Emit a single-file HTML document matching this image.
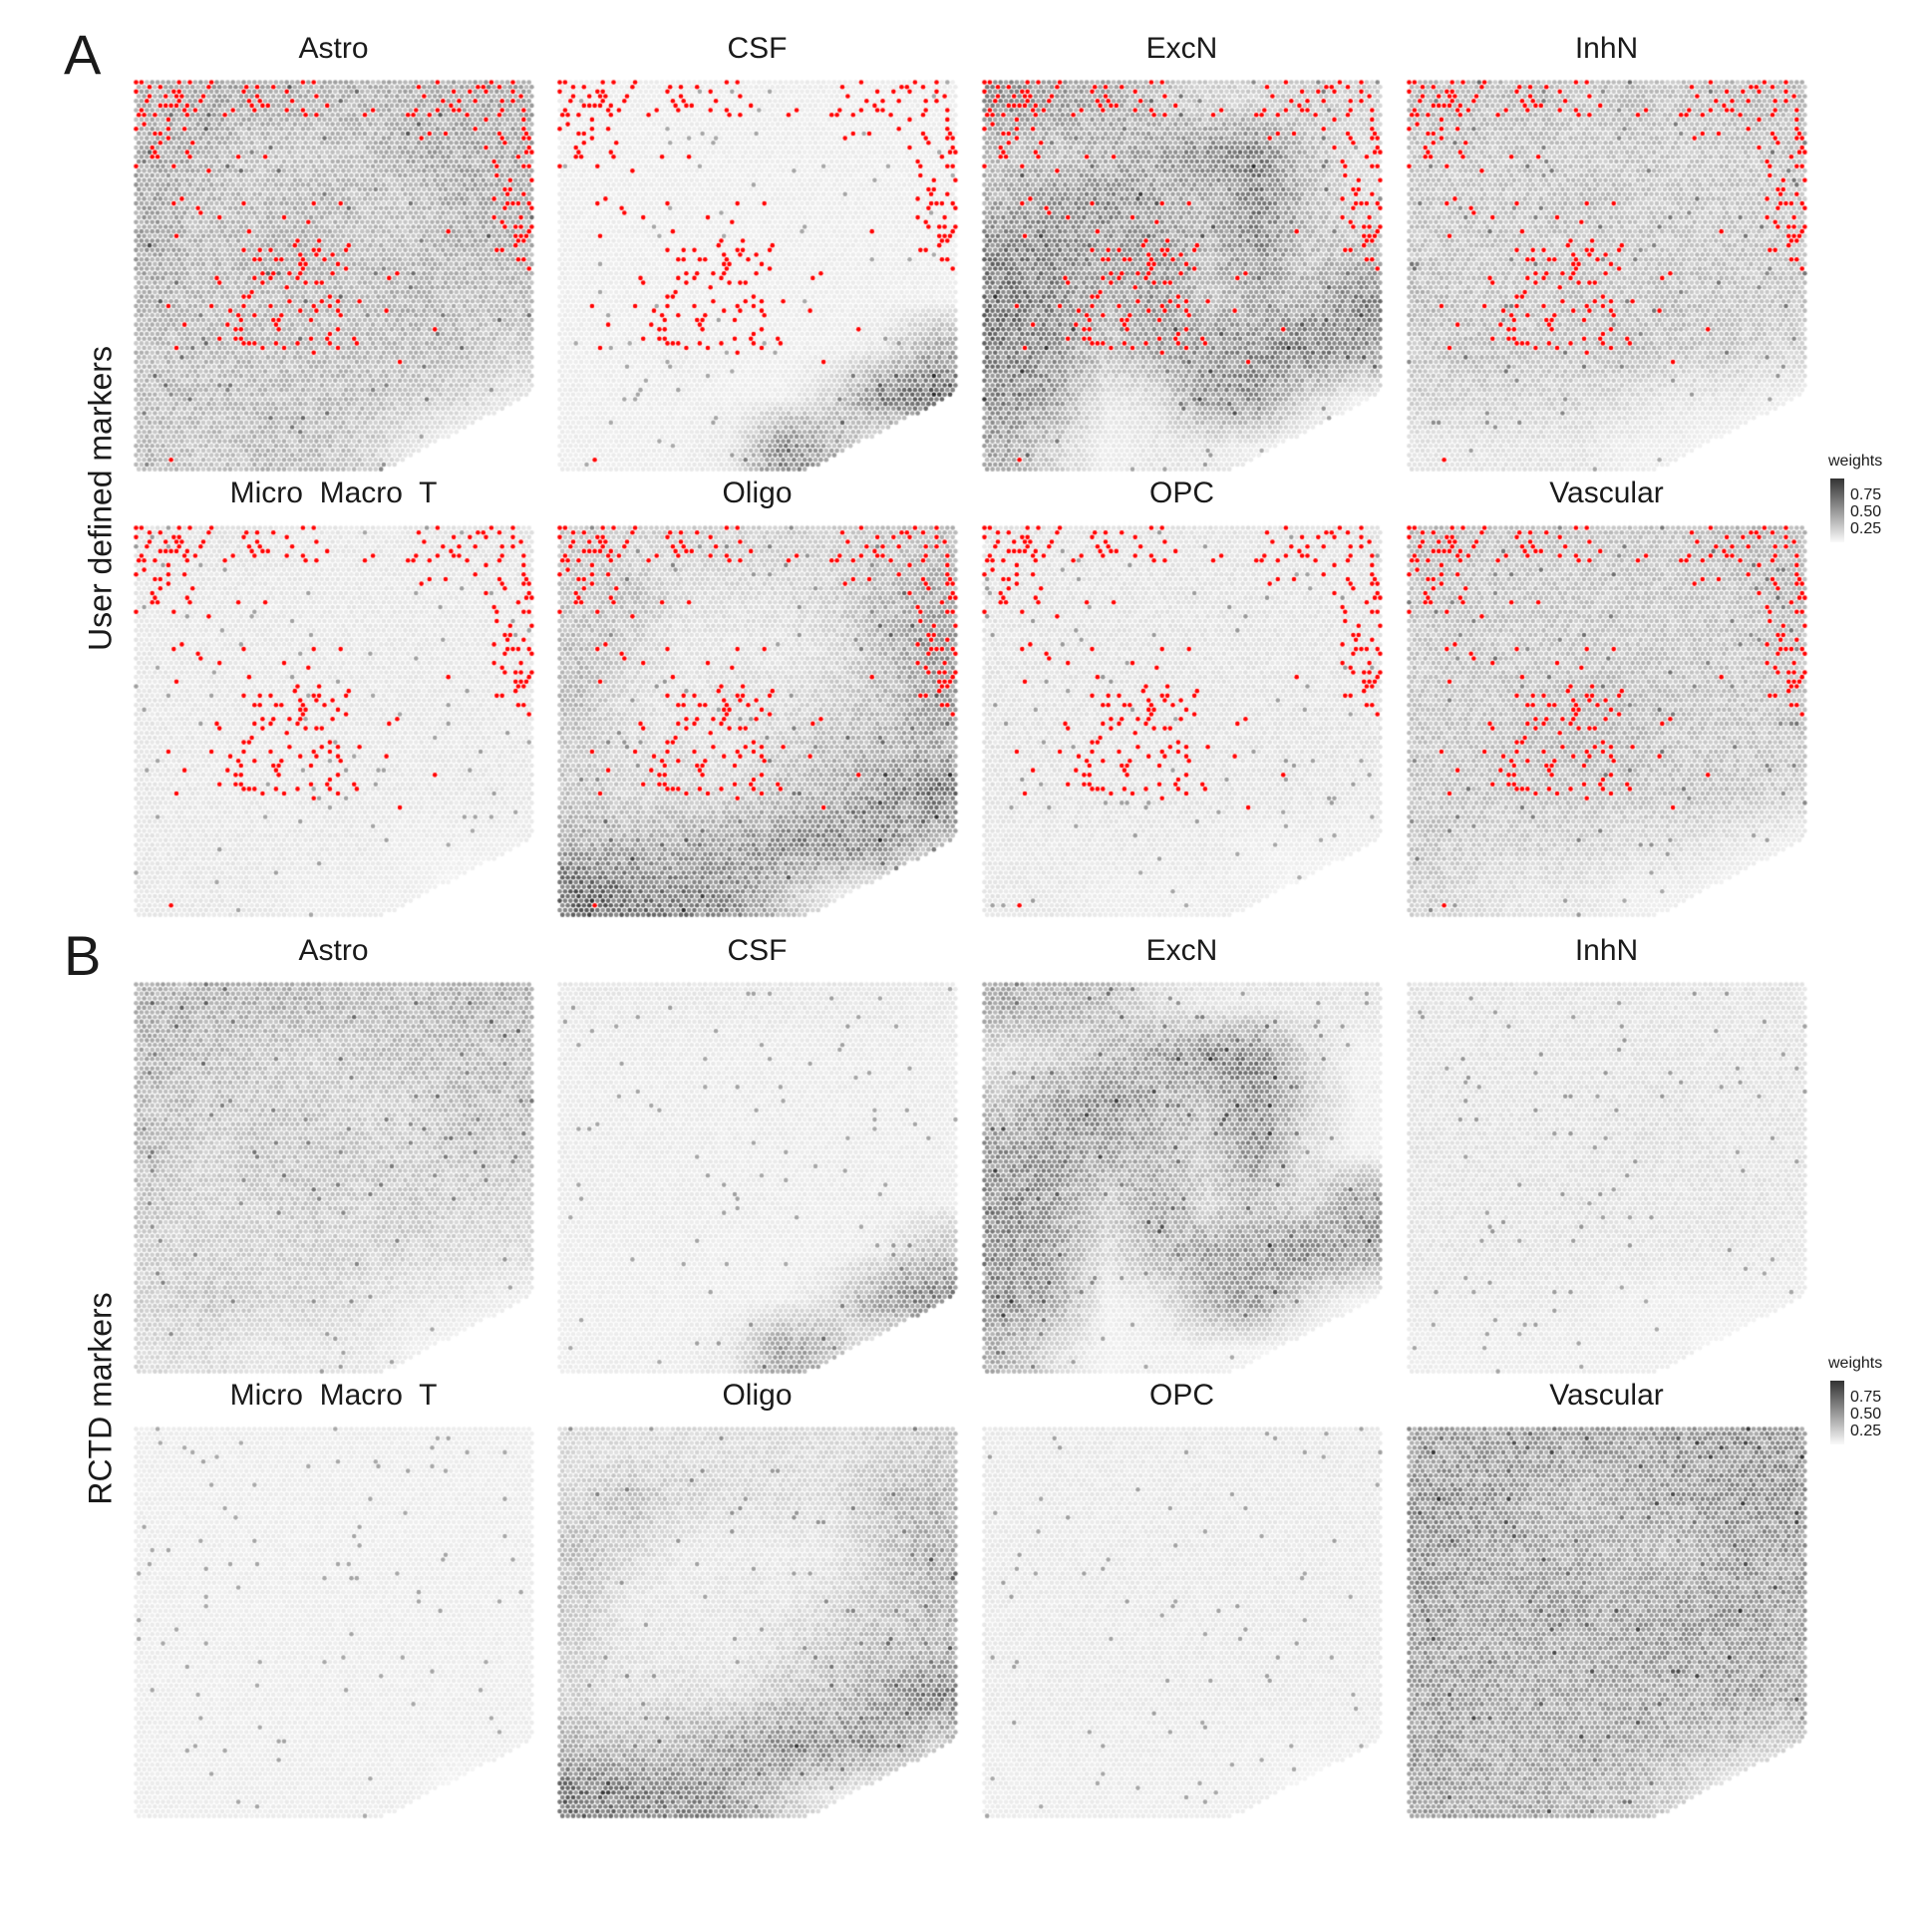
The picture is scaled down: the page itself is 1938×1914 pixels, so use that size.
<!DOCTYPE html>
<html><head><meta charset="utf-8">
<style>
body{margin:0;background:#fff;}
#root{position:relative;width:1938px;height:1914px;overflow:hidden;font-family:"Liberation Sans",sans-serif;color:#1a1a1a;}
.t{position:absolute;font-size:30px;transform:translateX(-50%);white-space:pre;}
.big{position:absolute;font-size:56px;}
.yl{position:absolute;font-size:32px;transform:translate(-50%,-50%) rotate(-90deg);white-space:nowrap;}
.lg{position:absolute;font-size:16px;}
.bar{position:absolute;width:14px;height:64px;background:linear-gradient(#333,#fafafa);}
</style></head><body>
<div id="root">
<canvas id="cv" width="1938" height="1914" style="position:absolute;left:0;top:0"></canvas>
<div class="big" style="left:64px;top:22px">A</div>
<div class="big" style="left:64px;top:926px">B</div>
<div class="yl" style="left:101px;top:500px">User defined markers</div>
<div class="yl" style="left:101px;top:1403px">RCTD markers</div>
<div id="titles"></div>
<div class="lg" style="left:1834px;top:454px">weights</div>
<div class="bar" style="left:1836px;top:480px"></div>
<div class="lg" style="left:1856px;top:488px;line-height:17px">0.75<br>0.50<br>0.25</div>
<div class="lg" style="left:1834px;top:1359px">weights</div>
<div class="bar" style="left:1836px;top:1385px"></div>
<div class="lg" style="left:1856px;top:1393px;line-height:17px">0.75<br>0.50<br>0.25</div>
</div>
<script>
const cellTypes=["Astro","CSF","ExcN","InhN","Micro  Macro  T","Oligo","OPC","Vascular"];
const colX=[134,559,985,1411];
const rowY=[80,527,985,1431];
const A_Astro=[[.35,.4,.4,.35,.35,.35,.4,.4],[.4,.35,.25,.25,.3,.4,.4,.4],[.4,.3,.3,.35,.3,.25,.4,.35],[.4,.3,.35,.35,.3,.3,.35,.35],[.35,.3,.3,.3,.3,.35,.3,.3],[.3,.3,.3,.3,.3,.3,.3,.25],[.3,.3,.3,.3,.3,.25,.2,.1],[.3,.25,.3,.3,.25,.1,0,0]];
const A_CSF=[[.05,.05,.05,.05,.05,.05,.05,.05],[.05,.05,.05,.05,.05,.05,.05,.05],[.05,.05,.05,.05,.05,.05,.05,.05],[.05,.05,.05,.05,.05,.05,.05,.05],[.05,.05,.05,.05,.05,.05,.05,.05],[.05,.05,.08,.05,.05,.05,.1,.4],[.05,.05,.05,.05,.05,.2,.6,.7],[.05,.05,.05,.1,.55,.4,0,0]];
const A_ExcN=[[.5,.45,.4,.3,.2,.2,.25,.2],[.3,.3,.35,.45,.55,.6,.3,.15],[.4,.5,.55,.4,.35,.6,.35,.15],[.6,.55,.45,.5,.35,.55,.3,.3],[.65,.55,.35,.5,.3,.4,.35,.6],[.6,.5,.3,.45,.5,.55,.65,.5],[.55,.45,.1,.15,.5,.55,.2,.05],[.4,.2,.05,.1,.1,.05,0,0]];
const A_InhN=[[.3,.3,.3,.25,.3,.25,.3,.3],[.25,.25,.25,.25,.25,.25,.25,.25],[.25,.25,.25,.3,.25,.25,.25,.25],[.25,.25,.25,.25,.25,.25,.25,.25],[.3,.25,.25,.3,.25,.3,.25,.25],[.25,.3,.25,.25,.3,.25,.25,.2],[.2,.2,.2,.2,.15,.1,.1,.05],[.1,.1,.1,.1,.05,.05,0,0]];
const A_Micro=[[.1,.1,.1,.08,.08,.08,.1,.1],[.08,.08,.08,.08,.08,.08,.08,.08],[.08,.08,.08,.08,.08,.08,.08,.08],[.08,.08,.08,.08,.08,.08,.08,.08],[.08,.08,.08,.08,.08,.08,.08,.08],[.08,.08,.08,.08,.08,.08,.08,.08],[.08,.08,.08,.08,.08,.05,.05,.05],[.08,.08,.08,.05,.05,.05,0,0]];
const A_Oligo=[[.25,.2,.2,.2,.2,.2,.25,.3],[.25,.3,.15,.15,.15,.2,.35,.4],[.3,.2,.1,.1,.1,.15,.3,.5],[.3,.15,.1,.15,.15,.2,.3,.45],[.25,.15,.15,.1,.2,.3,.35,.4],[.25,.2,.2,.2,.3,.35,.5,.65],[.4,.35,.4,.45,.55,.6,.55,.3],[.7,.65,.6,.55,.3,.1,0,0]];
const A_OPC=[[.1,.1,.1,.1,.1,.1,.1,.1],[.1,.1,.1,.1,.1,.1,.1,.1],[.1,.1,.1,.1,.1,.1,.1,.1],[.1,.1,.1,.1,.1,.1,.1,.1],[.1,.1,.1,.1,.1,.1,.1,.1],[.1,.1,.1,.1,.1,.1,.1,.08],[.08,.08,.08,.08,.08,.05,.05,.05],[.08,.08,.05,.05,.05,.05,0,0]];
const A_Vasc=[[.3,.25,.25,.25,.25,.25,.3,.3],[.25,.25,.25,.25,.25,.25,.25,.3],[.25,.25,.25,.25,.25,.25,.25,.25],[.25,.25,.25,.3,.3,.25,.25,.25],[.25,.25,.3,.3,.3,.25,.25,.25],[.25,.25,.25,.25,.25,.25,.25,.2],[.25,.2,.2,.2,.15,.15,.1,.05],[.2,.15,.1,.1,.05,.05,0,0]];
const B_Astro=[[.35,.35,.35,.35,.3,.3,.35,.35],[.35,.3,.25,.2,.25,.3,.3,.3],[.3,.25,.25,.25,.2,.2,.3,.3],[.3,.2,.25,.25,.25,.2,.25,.25],[.25,.2,.2,.25,.2,.25,.2,.2],[.2,.2,.2,.2,.2,.2,.15,.15],[.2,.25,.2,.2,.15,.1,.1,.05],[.15,.15,.1,.1,.1,.05,0,0]];
const B_CSF=[[.08,.08,.08,.08,.08,.08,.08,.08],[.06,.06,.06,.06,.06,.06,.06,.06],[.06,.06,.06,.06,.06,.06,.06,.06],[.06,.06,.06,.06,.06,.06,.06,.06],[.06,.06,.06,.06,.06,.06,.06,.06],[.05,.05,.06,.05,.05,.05,.08,.3],[.05,.05,.05,.05,.05,.15,.5,.6],[.05,.05,.05,.1,.45,.3,0,0]];
const B_ExcN=[[.4,.35,.3,.15,.1,.1,.1,.1],[.15,.2,.3,.45,.55,.6,.2,.05],[.3,.45,.55,.4,.3,.55,.25,.05],[.5,.5,.4,.35,.25,.55,.15,.05],[.55,.45,.25,.4,.2,.3,.2,.5],[.55,.45,.15,.35,.45,.45,.6,.45],[.5,.4,.05,.1,.4,.5,.15,.03],[.35,.15,.03,.05,.05,.03,0,0]];
const B_InhN=[[.1,.1,.1,.1,.1,.1,.1,.1],[.1,.1,.1,.1,.1,.1,.1,.1],[.1,.1,.1,.1,.12,.12,.1,.1],[.1,.1,.1,.1,.12,.12,.1,.1],[.1,.1,.1,.12,.1,.1,.12,.1],[.1,.1,.1,.1,.1,.1,.1,.08],[.08,.08,.08,.08,.05,.05,.05,.05],[.05,.05,.05,.05,.05,.05,0,0]];
const B_Micro=[[.05,.05,.05,.05,.05,.05,.05,.05],[.05,.05,.05,.05,.05,.05,.05,.05],[.05,.05,.05,.05,.05,.05,.05,.05],[.05,.05,.05,.05,.05,.05,.05,.05],[.05,.05,.05,.05,.05,.05,.05,.05],[.05,.05,.05,.05,.05,.05,.05,.05],[.05,.05,.05,.05,.05,.05,.05,.05],[.05,.05,.05,.05,.05,.05,0,0]];
const B_Oligo=[[.15,.15,.15,.15,.15,.15,.2,.25],[.2,.3,.2,.15,.15,.15,.3,.35],[.3,.2,.08,.08,.08,.1,.25,.4],[.25,.1,.08,.1,.1,.15,.25,.35],[.2,.1,.1,.08,.15,.25,.3,.35],[.2,.15,.15,.15,.25,.3,.45,.6],[.35,.3,.35,.45,.55,.55,.5,.25],[.65,.6,.55,.5,.25,.1,0,0]];
const B_OPC=[[.07,.07,.07,.07,.07,.07,.07,.07],[.07,.07,.07,.07,.07,.07,.07,.07],[.07,.07,.07,.07,.07,.07,.07,.07],[.07,.07,.07,.07,.07,.07,.07,.07],[.07,.07,.07,.07,.07,.07,.07,.07],[.07,.07,.07,.07,.07,.07,.07,.07],[.06,.06,.06,.06,.06,.05,.05,.05],[.05,.05,.05,.05,.05,.05,0,0]];
const B_Vasc=[[.45,.45,.45,.45,.45,.45,.5,.5],[.5,.5,.4,.35,.4,.45,.5,.5],[.5,.45,.4,.4,.35,.3,.45,.45],[.5,.4,.45,.45,.4,.45,.5,.45],[.45,.4,.4,.4,.45,.45,.45,.4],[.45,.45,.4,.4,.4,.4,.45,.4],[.45,.4,.4,.4,.4,.35,.3,.2],[.45,.4,.4,.35,.3,.2,0,0]];
const panelGrids=[A_Astro,A_CSF,A_ExcN,A_InhN,A_Micro,A_Oligo,A_OPC,A_Vasc,B_Astro,B_CSF,B_ExcN,B_InhN,B_Micro,B_Oligo,B_OPC,B_Vasc];
const redDensity=[[.5,.45,.3,.35,.25,.05,.05,.3,.35,.3],[.3,.1,.1,.1,0,0,0,.1,.1,.35],[.05,.1,0,.05,0,0,0,0,0,.4],[0,.1,.05,.05,.1,.05,0,.05,0,.35],[.02,.05,.15,.3,.35,.1,.05,0,0,.3],[.02,.05,.2,.35,.4,.1,.05,.02,0,.02],[0,.05,.15,.2,.25,.1,0,.03,0,0],[0,.03,.05,.05,.03,0,.02,0,0,.01],[0,0,.02,0,0,0,0,0,0,0],[.05,0,0,0,0,0,0,0,0,0]];
const redScale=0.45;

const PW=401,PH=393,SP=5.4;
const titles=document.getElementById('titles');
const titleY=[32,478,937,1383];
for(let i=0;i<16;i++){
  const d=document.createElement('div');
  d.className='t';
  d.style.left=(colX[i%4]+PW/2)+'px';
  d.style.top=titleY[Math.floor(i/4)]+'px';
  d.textContent=cellTypes[i%8];
  
  
  titles.appendChild(d);
}
function hash(a,b,c){let h=(a*374761393+b*668265263+c*2147483647)|0;h=(h^(h>>>13))*1274126177|0;h=h^(h>>>16);return ((h>>>0)%10000)/10000;}
function grid(g,fx,fy){
  const gx=Math.min(Math.max(fx*8-.5,0),7),gy=Math.min(Math.max(fy*8-.5,0),7);
  const x0=Math.floor(gx),y0=Math.floor(gy),x1=Math.min(x0+1,7),y1=Math.min(y0+1,7),tx=gx-x0,ty=gy-y0;
  return g[y0][x0]*(1-tx)*(1-ty)+g[y0][x1]*tx*(1-ty)+g[y1][x0]*(1-tx)*ty+g[y1][x1]*tx*ty;
}
const ctx=document.getElementById('cv').getContext('2d');
for(let p=0;p<16;p++){
  const ox=colX[p%4],oy=rowY[Math.floor(p/4)],g=panelGrids[p],isA=p<8;
  let r=0;
  for(let y=2.5;y<PH;y+=SP*0.866,r++){
    let c=0;
    for(let x=2.5+(r%2)*SP/2;x<PW;x+=SP,c++){
      const fx=x/PW,fy=y/PH;
      if(fx>0.62 && fy>0.8+(1-fx)*0.2/0.38) continue;
      let v=grid(g,fx,fy);
      const h=hash(p,r,c);
      v=v+(h-0.5)*0.3*Math.max(v,0.05)*2;
      if(hash(p+31,c,r)>0.985) v+=0.35;
      v=Math.max(0,Math.min(1,v));
      let col;
      if(isA){
        const rd=redDensity[Math.min(9,Math.floor(fy*10))][Math.min(9,Math.floor(fx*10))]*redScale;
        if(hash(7,r,c)<rd) col='#ff0000';
      }
      if(!col){const k=Math.round(246-v*200);col='rgb('+k+','+k+','+k+')';}
      ctx.fillStyle=col;
      ctx.beginPath();ctx.arc(ox+x,oy+y,2.3,0,6.2832);ctx.fill();
    }
  }
}
</script>
</body></html>
